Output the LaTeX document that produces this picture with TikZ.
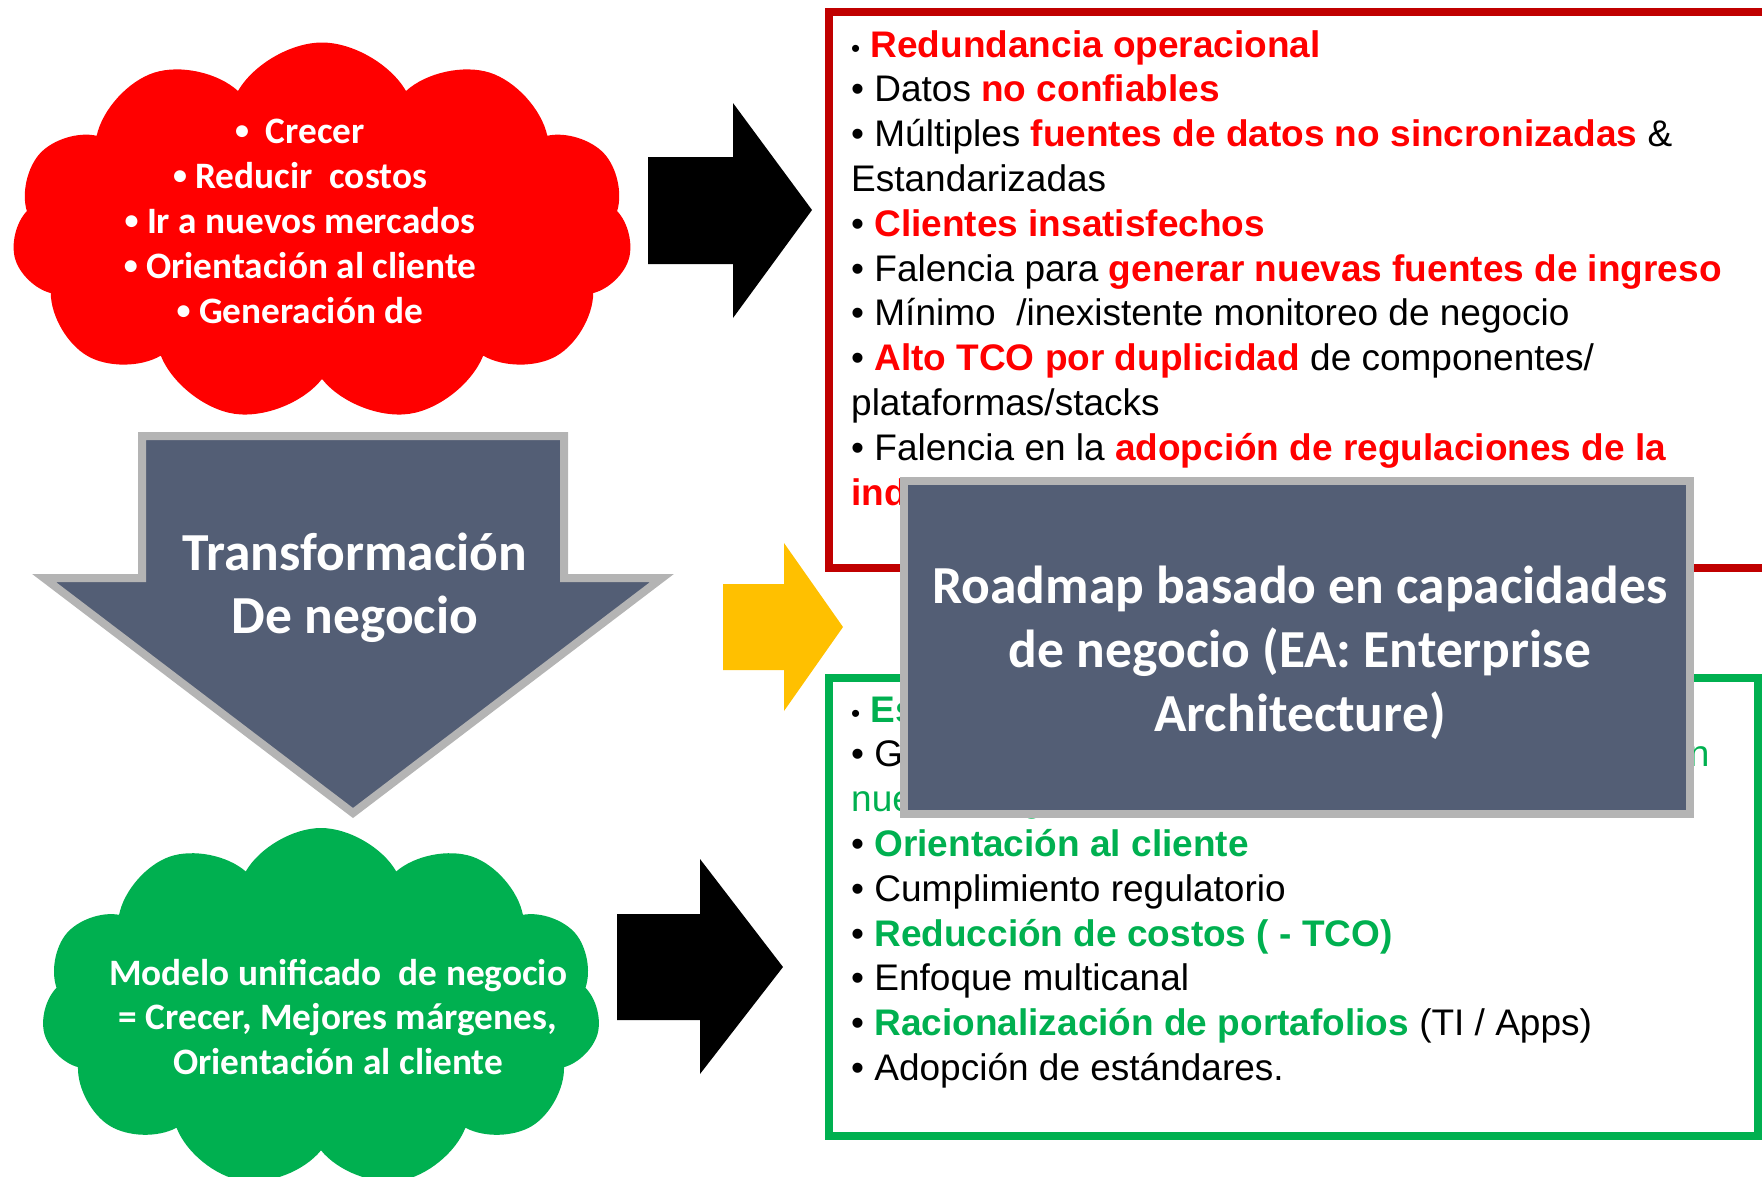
\documentclass[tikz,border=0pt]{standalone}
\usepackage{fontspec}
\setmainfont{Liberation Sans}
\newfontfamily\calfont{Carlito}
\usetikzlibrary{shapes.symbols}

\definecolor{cloudred}{HTML}{FF0000}
\definecolor{boxred}{HTML}{C00000}
\definecolor{txtred}{HTML}{FF0000}
\definecolor{cloudgreen}{HTML}{00B050}
\definecolor{txtgreen}{HTML}{00B050}
\definecolor{slate}{HTML}{535E75}
\definecolor{rim}{HTML}{B4B4B4}
\definecolor{amber}{HTML}{FFC000}

\newcommand{\redb}[1]{\textcolor{txtred}{\bfseries #1}}
\newcommand{\grnb}[1]{\textcolor{txtgreen}{\bfseries #1}}
\newcommand{\grn}[1]{\textcolor{txtgreen}{#1}}
\newcommand{\smallbul}{{\fontsize{26}{26}\selectfont •}}
\newcommand{\cbul}{\raisebox{3.5pt}{\fontsize{28}{28}\selectfont •}}

\tikzset{
  puff/.style={cloud, cloud puffs=11, cloud puff arc=120, cloud ignores aspect},
  cloudtxt/.style={text=white, font=\calfont\bfseries\fontsize{37.3}{44}\selectfont, anchor=base},
  bigtxt/.style={text=white, font=\calfont\bfseries\fontsize{53.5}{64}\selectfont, anchor=base},
  listtxt/.style={font=\fontsize{37}{45}\selectfont, anchor=base west},
}

\begin{document}
\begin{tikzpicture}[x=1pt,y=1pt]
\tikzstyle{every node}+=[inner sep=0pt]
\useasboundingbox (0,0) rectangle (1762,-1176);
% clouds
\node [puff, fill=cloudred, minimum width=620pt, minimum height=379pt] (redcloud) at (322,-232) {};
\foreach \t [count=\i] in {{\cbul\ \ Crecer},{\cbul\ Reducir\ \ costos},{\cbul\ Ir a nuevos mercados},{\cbul\ Orientación al cliente},{\cbul\ Generación de}}
  \node [cloudtxt] (rc\i) at (300,{-143-45*(\i-1)}) {\t};
\node [puff, fill=cloudgreen, minimum width=559pt, minimum height=360pt] (greencloud) at (321,-1008) {};
\foreach \t [count=\i] in {{Modelo unificado\ \ de negocio},{= Crecer, Mejores márgenes,},{Orientación al cliente}}
  \node [cloudtxt] (gc\i) at (338,{-985-44.5*(\i-1)}) {\t};
% block arrows
\fill [black] (648,-157) -- (733,-157) -- (733,-103) -- (812,-210) -- (733,-318) -- (733,-264) -- (648,-264) -- cycle;
\fill [black] (617,-914) -- (700,-914) -- (700,-859) -- (783,-967) -- (700,-1074) -- (700,-1020) -- (617,-1020) -- cycle;
\fill [amber] (723,-584) -- (784,-584) -- (784,-543) -- (843,-627) -- (784,-711) -- (784,-670) -- (723,-670) -- cycle;
\draw [rim, fill=slate, line width=8pt] (142,-436) -- (564,-436) -- (564,-578) -- (662,-578) -- (353,-813) -- (44,-578) -- (142,-578) -- cycle;
\node [bigtxt] (trans1) at (355,-570) {Transformación};
\node [bigtxt] (trans2) at (355,-633) {De negocio};
% problem box
\draw [boxred, line width=8pt] (829,-12) rectangle (1775,-568);
\foreach \t [count=\i] in {
  {\smallbul\ \redb{Redundancia operacional}},
  {• Datos \redb{no confiables}},
  {• Múltiples \redb{fuentes de datos no sincronizadas} \&},
  {Estandarizadas},
  {• \redb{Clientes insatisfechos}},
  {• Falencia para \redb{generar nuevas fuentes de ingreso}},
  {• Mínimo\ \ /inexistente monitoreo de negocio},
  {• \redb{Alto TCO por duplicidad} de componentes/},
  {plataformas/stacks},
  {• Falencia en la \redb{adopción de regulaciones de la}},
  {\redb{industria}}}
  \node [listtxt] (p\i) at (851,{-57-44.8*(\i-1)}) {\t};
% benefit box
\draw [cloudgreen, line width=8pt] (829,-678) rectangle (1758,-1136);
\foreach \t [count=\i] in {
  {\smallbul\ \grnb{Estandarización}},
  {• Generación de fuentes de ingresos y \grn{expansión en}},
  {\grn{nuevos negocios}},
  {• \grnb{Orientación al cliente}},
  {• Cumplimiento regulatorio},
  {• \grnb{Reducción de costos ( - TCO)}},
  {• Enfoque multicanal},
  {• \grnb{Racionalización de portafolios} (TI / Apps)},
  {• Adopción de estándares.}}
  \node [listtxt] (b\i) at (851,{-722-44.8*(\i-1)}) {\t};
% roadmap box
\node [draw=rim, fill=slate, line width=8pt, minimum width=786pt, minimum height=333pt] (roadmap) at (1297,-647.5) {};
\foreach \t [count=\i] in {{Roadmap basado en capacidades},{de negocio (EA: Enterprise},{Architecture)}}
  \node [bigtxt] (rm\i) at (1300,{-603-64*(\i-1)}) {\t};
\end{tikzpicture}
\end{document}
